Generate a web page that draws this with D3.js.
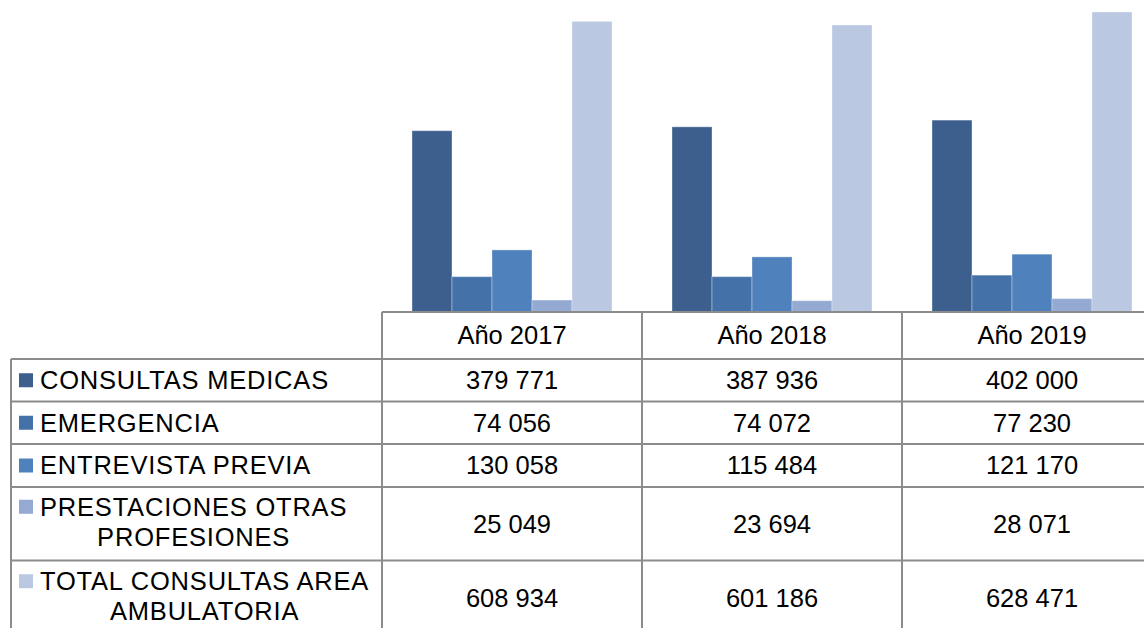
<!DOCTYPE html>
<html>
<head>
<meta charset="utf-8">
<script src="https://cdn.jsdelivr.net/npm/d3@7"></script>
<style>
  body { margin: 0; background: #fff; }
  text { font-family: "Liberation Sans", Arial, sans-serif; fill: #000; }
</style>
</head>
<body>
<script>
var width = 1144;
var height = 628;

var years = ['Año 2017', 'Año 2018', 'Año 2019'];
var seriesNames = [
  ['CONSULTAS MEDICAS'],
  ['EMERGENCIA'],
  ['ENTREVISTA PREVIA'],
  ['PRESTACIONES OTRAS', 'PROFESIONES'],
  ['TOTAL CONSULTAS AREA', 'AMBULATORIA']
];
var consultasMedicas = [379771, 387936, 402000];
var emergencia = [74056, 74072, 77230];
var entrevistaPrevia = [130058, 115484, 121170];
var prestacionesOtras = [25049, 23694, 28071];
var totalAmbulatoria = [608934, 601186, 628471];
var colors = ['#3c5f8e', '#4472a8', '#4f81bd', '#94aad2', '#bbc8e1'];

var series = [consultasMedicas, emergencia, entrevistaPrevia, prestacionesOtras, totalAmbulatoria];

var svg = d3.select('body')
            .append('svg')
            .attr('width', width)
            .attr('height', height);

var fontSize = '25.5px';
var tableLeft = 11;
var plotLeft = 382;
var plotRight = 1162;
var baseline = 312;
var rowLines = [312, 359, 401.5, 444, 487, 560.5, 636];

var xScale = d3.scaleBand()
                .domain(years)
                .range([plotLeft, plotRight])
                .paddingInner(0)
                .paddingOuter(0);

var xInner = d3.scaleBand()
                .domain(d3.range(series.length))
                .range([30, xScale.bandwidth() - 30]);

var yScale = d3.scaleLinear()
                .domain([0, 628471])
                .range([baseline, 12]);

var fmt = function (v) {
  return d3.format(',')(v).replace(/,/g, ' ');
};

// bars
var groups = svg.selectAll('.year')
                .data(years)
                .enter()
                .append('g')
                .attr('class', 'year')
                .attr('transform', function (d) { return 'translate(' + xScale(d) + ',0)'; });

groups.selectAll('rect')
      .data(function (d, i) {
        return series.map(function (s, j) { return { j: j, v: s[i] }; });
      })
      .enter()
      .append('rect')
      .attr('x', function (d) { return xInner(d.j); })
      .attr('y', function (d) { return yScale(d.v); })
      .attr('width', xInner.bandwidth())
      .attr('height', function (d) { return baseline - yScale(d.v); })
      .attr('fill', function (d) { return colors[d.j]; })
      .attr('stroke', 'rgba(255,255,255,0.35)')
      .attr('stroke-width', 1);

// table grid
var grid = svg.append('g')
              .attr('stroke', '#8c8c8c')
              .attr('stroke-width', 2);

grid.append('line')
    .attr('x1', plotLeft).attr('x2', width + 2)
    .attr('y1', rowLines[0]).attr('y2', rowLines[0]);

rowLines.slice(1, 6).forEach(function (y) {
  grid.append('line')
      .attr('x1', tableLeft).attr('x2', width + 2)
      .attr('y1', y).attr('y2', y);
});

grid.append('line')
    .attr('x1', tableLeft).attr('x2', tableLeft)
    .attr('y1', rowLines[1]).attr('y2', height + 2);

years.forEach(function (yr) {
  grid.append('line')
      .attr('x1', xScale(yr)).attr('x2', xScale(yr))
      .attr('y1', rowLines[0]).attr('y2', height + 2);
});

// header
svg.selectAll('.hdr')
   .data(years)
   .enter()
   .append('text')
   .attr('class', 'hdr')
   .attr('x', function (d) { return xScale(d) + 130; })
   .attr('y', (rowLines[0] + rowLines[1]) / 2)
   .attr('dy', '0.35em')
   .attr('text-anchor', 'middle')
   .style('font-size', fontSize)
   .text(function (d) { return d; });

// row labels and values
seriesNames.forEach(function (name, j) {
  var top = rowLines[j + 1];
  var bottom = rowLines[j + 2];
  var mid = (top + bottom) / 2;
  var lineH = 30;
  var firstY = name.length > 1 ? mid - 17 : mid;

  svg.append('rect')
     .attr('x', 19)
     .attr('y', firstY - 7)
     .attr('width', 14)
     .attr('height', 14)
     .attr('fill', colors[j]);

  var first = svg.append('text')
     .attr('x', 40)
     .attr('y', firstY)
     .attr('dy', '0.35em')
     .style('font-size', fontSize)
     .style('letter-spacing', '0.8px')
     .text(name[0]);

  if (name.length > 1) {
    var w = first.node().getComputedTextLength();
    svg.append('text')
       .attr('x', 40 + w / 2)
       .attr('y', firstY + lineH)
       .attr('dy', '0.35em')
       .attr('text-anchor', 'middle')
       .style('font-size', fontSize)
       .style('letter-spacing', '0.8px')
       .text(name[1]);
  }

  years.forEach(function (yr, i) {
    svg.append('text')
       .attr('x', xScale(yr) + 130)
       .attr('y', mid)
       .attr('dy', '0.35em')
       .attr('text-anchor', 'middle')
       .style('font-size', fontSize)
       .text(fmt(series[j][i]));
  });
});
</script>
</body>
</html>
